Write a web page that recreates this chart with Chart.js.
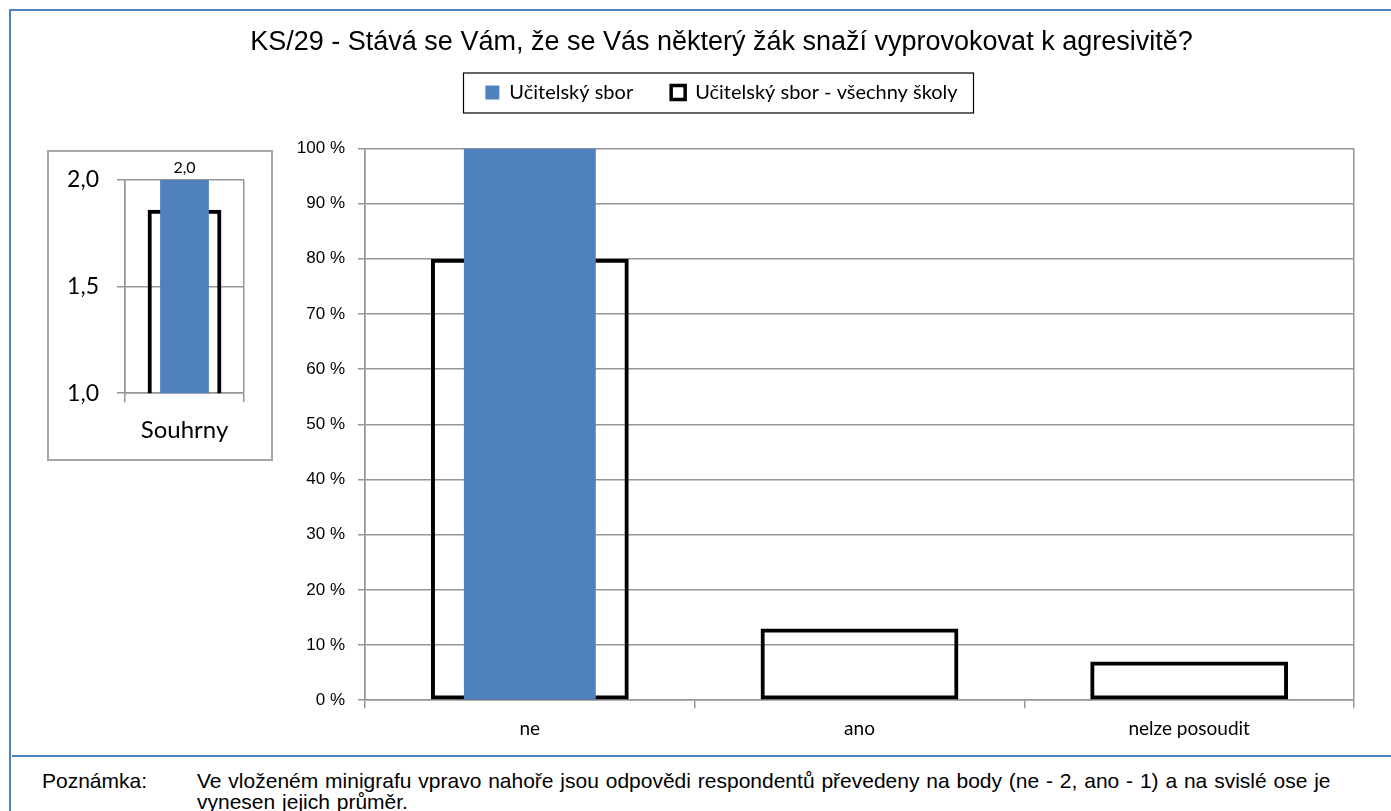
<!DOCTYPE html>
<html><head><meta charset="utf-8">
<script src="https://cdn.jsdelivr.net/npm/chart.js@4.4.1/dist/chart.umd.min.js"></script>
<style>
html,body{margin:0;padding:0;background:#fff;}
body{width:1391px;height:811px;overflow:hidden;position:relative;}
#frameTop{position:absolute;left:9px;top:9px;width:1382px;height:2px;background:#4f81bd;}
#frameLeft{position:absolute;left:9px;top:9px;width:2px;height:802px;background:#4f81bd;}
#sep{position:absolute;left:12px;top:755px;width:1379px;height:2px;background:#4f81bd;}
#mainWrap{position:absolute;left:11px;top:11px;width:1380px;height:740px;}
#miniWrap{position:absolute;left:47px;top:150px;width:222px;height:307px;border:2px solid #a6a6a6;background:#fff;}
.note{position:absolute;font-family:"Liberation Sans",Arial,sans-serif;font-size:21px;line-height:21px;color:#000;top:770px;white-space:nowrap;}
</style></head>
<body>
<div id="frameTop"></div><div id="frameLeft"></div><div id="sep"></div>
<div id="mainWrap"><canvas id="main"></canvas></div>
<div id="miniWrap"><canvas id="mini"></canvas></div>
<div class="note" style="left:42px;">Poznámka:</div>
<div class="note" style="left:197px;word-spacing:1px;">Ve vloženém minigrafu vpravo nahoře jsou odpovědi respondentů převedeny na body (ne - 2, ano - 1) a na svislé ose je<br>vynesen jejich průměr.</div>
<script>
const titleText = 'KS/29 - Stává se Vám, že se Vás některý žák snaží vyprovokovat k agresivitě?';
const seriesLabels = ['Učitelský sbor', 'Učitelský sbor - všechny školy'];
const categories = ['ne', 'ano', 'nelze posoudit'];
const seriesSchool = [100, 0, 0];
const seriesAll = [80, 13, 7];
const miniCategories = ['Souhrny'];
const miniSchool = [2.0];
const miniAll = [1.86];

const blue = '#4f81bd';
const gridGray = '#969696';
const calibri = 'Lato, "Open Sans", sans-serif';
const arial = '"Liberation Sans", Arial, sans-serif';
const comma1 = v => Number(v).toFixed(1).replace('.', ',');

function edgeOnly(n) {
  return c => (c.index > 0 && c.index < n) ? 'rgba(0,0,0,0)' : gridGray;
}

const legendGap = {
  id: 'legendGap',
  beforeInit(chart) {
    const lg = chart.legend;
    if (!lg) return;
    const f = lg.fit;
    lg.fit = function () { f.call(this); this.height += 36; };
  }
};
const legendFrame = {
  id: 'legendFrame',
  afterDraw(chart) {
    const lg = chart.legend;
    if (!lg || !lg.legendHitBoxes || !lg.legendHitBoxes.length) return;
    const hb = lg.legendHitBoxes;
    const last = hb[hb.length - 1];
    const l = Math.round(hb[0].left - 22), r = Math.round(last.left + last.width + 15);
    const cy = Math.round(hb[0].top + hb[0].height / 2);
    const ctx = chart.ctx;
    ctx.save();
    ctx.strokeStyle = '#000'; ctx.lineWidth = 1.2;
    ctx.strokeRect(l + 0.5, cy - 19, r - l, 40);
    ctx.restore();
  }
};

new Chart(document.getElementById('main'), {
  type: 'bar',
  data: {
    labels: categories,
    datasets: [
      { label: seriesLabels[0], data: seriesSchool, backgroundColor: blue, borderWidth: 0,
        barPercentage: 0.4, categoryPercentage: 1, order: 0, grouped: false },
      { label: seriesLabels[1], data: seriesAll, backgroundColor: 'rgba(0,0,0,0)', borderColor: '#000',
        borderWidth: 4, borderSkipped: false, barPercentage: 0.6, categoryPercentage: 1, order: 1, grouped: false }
    ]
  },
  options: {
    responsive: true, maintainAspectRatio: false, animation: false,
    layout: { padding: { left: 78, right: 37, top: 0, bottom: 2 } },
    plugins: {
      tooltip: { enabled: false },
      title: { display: true, text: titleText, color: '#000',
        font: { family: arial, size: 27, weight: 'normal' }, padding: { top: 15, bottom: -14 } },
      legend: {
        display: true, position: 'top',
        labels: {
          color: '#000', font: { family: calibri, size: 20 }, boxWidth: 14, boxHeight: 14, padding: 38,
          generateLabels(chart) {
            const items = Chart.defaults.plugins.legend.labels.generateLabels(chart);
            items.forEach((it, i) => {
              if (i === 1) { it.fillStyle = '#fff'; it.strokeStyle = '#000'; it.lineWidth = 3.5; }
              else { it.lineWidth = 0; it.strokeStyle = blue; }
            });
            return items;
          }
        }
      }
    },
    scales: {
      x: {
        offset: true,
        grid: { offset: true, drawOnChartArea: true, color: edgeOnly(categories.length), tickColor: gridGray,
          tickLength: 8, lineWidth: 1.5 },
        border: { color: gridGray, width: 1.5 },
        ticks: { color: '#000', font: { family: calibri, size: 19 }, padding: 9 }
      },
      y: {
        min: 0, max: 100,
        grid: { color: gridGray, tickColor: gridGray, tickLength: 7, lineWidth: 1.5 },
        border: { color: gridGray, width: 1.5 },
        ticks: { stepSize: 10, color: '#000', font: { family: arial, size: 17 }, padding: 13,
          callback: v => v + ' %' },
        afterFit(scale) { scale.width = 276; }
      }
    }
  },
  plugins: [legendGap, legendFrame]
});

const miniLabel = {
  id: 'miniLabel',
  afterDatasetsDraw(chart) {
    const meta = chart.getDatasetMeta(0);
    const ctx = chart.ctx;
    meta.data.forEach((bar, i) => {
      ctx.save();
      ctx.font = '16px ' + calibri;
      ctx.fillStyle = '#000';
      ctx.textAlign = 'center';
      ctx.textBaseline = 'bottom';
      ctx.fillText(comma1(miniSchool[i]), bar.x, bar.y - 4);
      ctx.restore();
    });
  }
};

new Chart(document.getElementById('mini'), {
  type: 'bar',
  data: {
    labels: miniCategories,
    datasets: [
      { label: seriesLabels[0], data: miniSchool, backgroundColor: blue, borderWidth: 0,
        barPercentage: 0.41, categoryPercentage: 1, order: 0, grouped: false },
      { label: seriesLabels[1], data: miniAll, backgroundColor: 'rgba(0,0,0,0)', borderColor: '#000',
        borderWidth: 4, borderSkipped: false, barPercentage: 0.62, categoryPercentage: 1, order: 1, grouped: false }
    ]
  },
  options: {
    responsive: true, maintainAspectRatio: false, animation: false,
    layout: { padding: { left: 0, right: 27, top: 28, bottom: 0 } },
    plugins: { legend: { display: false }, tooltip: { enabled: false }, title: { display: false } },
    scales: {
      x: {
        offset: true,
        grid: { offset: true, drawOnChartArea: true, color: edgeOnly(miniCategories.length), tickColor: gridGray,
          tickLength: 9, lineWidth: 1.5 },
        border: { color: gridGray, width: 1.5 },
        ticks: { color: '#000', font: { family: calibri, size: 24 }, padding: 14 }
      },
      y: {
        min: 1, max: 2,
        grid: { color: gridGray, tickColor: gridGray, tickLength: 8, lineWidth: 1.5 },
        border: { color: gridGray, width: 1.5 },
        ticks: { stepSize: 0.5, color: '#000', font: { family: calibri, size: 23 }, padding: 18,
          callback: v => comma1(v) },
        afterFit(scale) { scale.width = 76; scale.paddingTop = 0; scale.paddingBottom = 0; }
      }
    }
  },
  plugins: [miniLabel]
});
</script>
</body></html>
